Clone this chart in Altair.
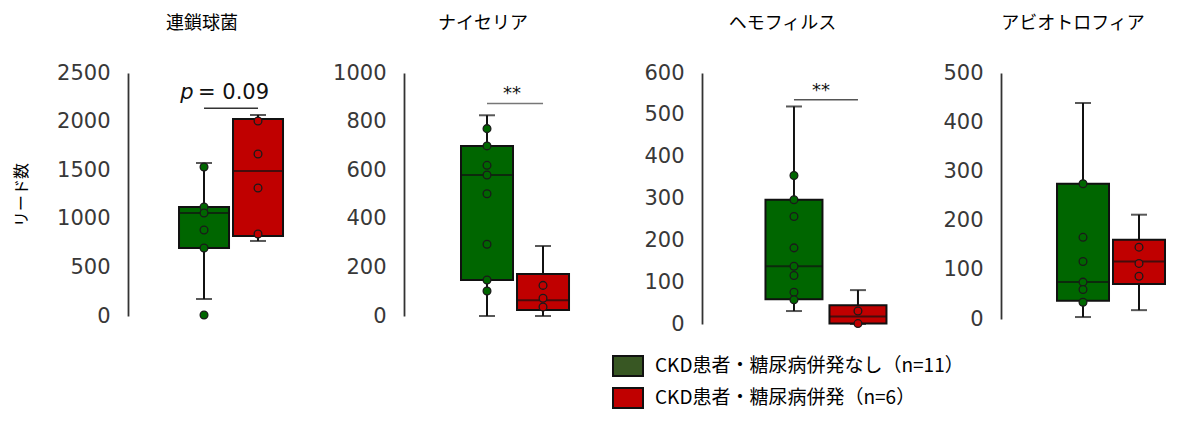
import altair as alt
import pandas as pd

# ---------------- data ----------------
groups = ["CKD患者・糖尿病併発なし（n=11）", "CKD患者・糖尿病併発（n=6）"]
box_colors = ["#006600", "#C00000"]
legend_colors = ["#385723", "#C00000"]

titles = ["連鎖球菌", "ナイセリア", "ヘモフィルス", "アビオトロフィア"]
y_max = [2500, 1000, 600, 500]
tick_values = [
    [0, 500, 1000, 1500, 2000, 2500],
    [0, 200, 400, 600, 800, 1000],
    [0, 100, 200, 300, 400, 500, 600],
    [0, 100, 200, 300, 400, 500],
]

# box statistics per panel: [group0, group1]
stat_lo = [[175, 772], [0, 0], [31, 0], [4, 18]]
stat_q1 = [[700, 823], [148, 25], [59, 1], [37, 71]]
stat_med = [[1060, 1492], [580, 65], [138, 18], [75, 117]]
stat_q3 = [[1121, 2027], [700, 173], [297, 45], [275, 161]]
stat_hi = [[1574, 2068], [826, 288], [520, 81], [439, 212]]

# individual points per panel
points_g0 = [
    [1533, 1121, 1060, 885, 700, 10],
    [771, 700, 620, 580, 503, 295, 148, 103],
    [355, 297, 257, 182, 138, 116, 76, 58],
    [275, 166, 117, 75, 60, 34],
]
points_g1 = [
    [2006, 1667, 1317, 844],
    [126, 73, 37],
    [31, 1],
    [146, 113, 87],
]

# significance annotations (label, text y, line y)
sig_label = ["p = 0.09", "**", "**", None]
sig_text_y = [2236, 895, 545, None]
sig_line_y = [2137, 874, 536, None]

# ---------------- layout (styles only) ----------------
panel_width = [196, 218, 219, 170]
pad_outer = [0.815, 0.946, 0.711, 0.518]
band_align = [0.557, 0.519, 0.659, 0.931]
panel_height = [243, 243, 251, 246]
box_size = [50, 52, 57, 52]
title_dx = [-24, -30, -29, -13]
sig_dx = [0, 25, 27, 0]
line_colors = ["#333333", "#777777", "#555555", "#555555"]

NUM_FONT = "DejaVu Sans"
JP_FONT = "Noto Sans CJK JP"


def panel(i):
    box_df = pd.DataFrame({
        "group": groups,
        "lo": stat_lo[i],
        "q1": stat_q1[i],
        "med": stat_med[i],
        "q3": stat_q3[i],
        "hi": stat_hi[i],
    })
    pts_df = pd.DataFrame({
        "group": [groups[0]] * len(points_g0[i]) + [groups[1]] * len(points_g1[i]),
        "value": points_g0[i] + points_g1[i],
    })

    xscale = alt.Scale(domain=groups, paddingInner=0, paddingOuter=pad_outer[i],
                       align=band_align[i])
    yscale = alt.Scale(domain=[0, y_max[i]], nice=False, zero=True)
    yaxis = alt.Axis(
        values=tick_values[i], format="d", domain=True, domainColor="#333333",
        domainWidth=1.8, ticks=False, grid=False, labelFont=NUM_FONT, labelFontSize=21,
        labelColor="#383838", labelPadding=18,
        title="リード数" if i == 0 else None,
        titleFont=JP_FONT, titleFontSize=16, titleFontWeight="normal",
        titleColor="#000000", titlePadding=27.5,
    )
    x = alt.X("group:N", scale=xscale, axis=None)
    fill = alt.Fill("group:N", scale=alt.Scale(domain=groups, range=box_colors), legend=None)

    base = alt.Chart(box_df).encode(x=x)
    whisk = base.mark_rule(color="#111111", strokeWidth=2).encode(
        y=alt.Y("lo:Q", scale=yscale, axis=yaxis), y2="hi:Q")
    cap_lo = base.mark_tick(size=16, thickness=2, color="#111111").encode(
        y=alt.Y("lo:Q", scale=yscale, axis=yaxis))
    cap_hi = base.mark_tick(size=16, thickness=2, color="#111111").encode(
        y=alt.Y("hi:Q", scale=yscale, axis=yaxis))
    box = base.mark_bar(size=box_size[i], stroke="#111111", strokeWidth=2).encode(
        y=alt.Y("q1:Q", scale=yscale, axis=yaxis), y2="q3:Q", fill=fill)
    med = base.mark_tick(size=box_size[i], thickness=2, color="#111111").encode(
        y=alt.Y("med:Q", scale=yscale, axis=yaxis))
    pts = alt.Chart(pts_df).mark_circle(size=60, opacity=1, stroke="#1a1a1a",
                                         strokeWidth=1.3).encode(
        x=x, y=alt.Y("value:Q", scale=yscale, axis=yaxis), fill=fill)

    layers = [whisk, cap_lo, cap_hi, box, med, pts]

    if sig_label[i] is not None:
        sig_df = pd.DataFrame({"a": [groups[0]], "b": [groups[1]],
                               "ly": [sig_line_y[i]], "ty": [sig_text_y[i]]})
        line = alt.Chart(sig_df).mark_rule(color=line_colors[i], strokeWidth=1.5).encode(
            x=alt.X("a:N", scale=xscale, axis=None), x2="b:N",
            y=alt.Y("ly:Q", scale=yscale, axis=yaxis))
        layers.append(line)
        if sig_label[i].startswith("p"):
            t1 = alt.Chart(sig_df).mark_text(text="p", font=NUM_FONT, fontSize=21,
                                             fontStyle="italic", dx=-17, baseline="alphabetic",
                                             color="#111111").encode(
                x=alt.X("a:N", scale=xscale, axis=None),
                y=alt.Y("ty:Q", scale=yscale, axis=yaxis))
            t2 = alt.Chart(sig_df).mark_text(text=sig_label[i][1:].strip(), font=NUM_FONT,
                                             fontSize=21, dx=-6, align="left",
                                             baseline="alphabetic", color="#111111").encode(
                x=alt.X("a:N", scale=xscale, axis=None),
                y=alt.Y("ty:Q", scale=yscale, axis=yaxis))
            layers += [t1, t2]
        else:
            t = alt.Chart(sig_df).mark_text(text=sig_label[i], font=NUM_FONT, fontSize=18,
                                            dx=sig_dx[i], align="center",
                                            baseline="alphabetic", color="#111111").encode(
                x=alt.X("a:N", scale=xscale, axis=None),
                y=alt.Y("ty:Q", scale=yscale, axis=yaxis))
            layers.append(t)

    if i == 0:
        leg_df = pd.DataFrame({"group": groups, "v": [0, 0]})
        legend_layer = alt.Chart(leg_df).mark_square(size=10, opacity=0).encode(
            x=x,
            y=alt.Y("v:Q", scale=yscale, axis=yaxis),
            color=alt.Color("group:N", scale=alt.Scale(domain=groups, range=legend_colors),
                            legend=alt.Legend(
                                title=None, orient="none", legendX=489, legendY=282,
                                symbolType="M-1.5,-1L1.5,-1L1.5,1L-1.5,1Z",
                                symbolSize=400, symbolOpacity=1,
                                symbolStrokeColor="#111111", symbolStrokeWidth=2,
                                labelFont=JP_FONT, labelFontSize=19, labelColor="#000000",
                                labelOffset=16, rowPadding=4, padding=0,
                                labelLimit=600)),
        )
        layers.append(legend_layer)

    return alt.layer(*layers).properties(
        width=panel_width[i], height=panel_height[i],
        title=alt.TitleParams(text=titles[i], font=JP_FONT, fontSize=18,
                              fontWeight="normal", color="#000000", anchor="middle",
                              frame="group", dx=title_dx[i], offset=29),
    )


chart = alt.hconcat(*[panel(i) for i in range(4)], spacing=80, bounds="flush").resolve_scale(
    y="independent", x="independent", color="independent"
).resolve_legend(color="independent").properties(
    padding={"left": 5, "top": 7, "right": 5, "bottom": 0}
).configure(background="white").configure_view(strokeWidth=0, stroke=None)

chart.save("out.html", embed_options={"renderer": "svg", "actions": False})
